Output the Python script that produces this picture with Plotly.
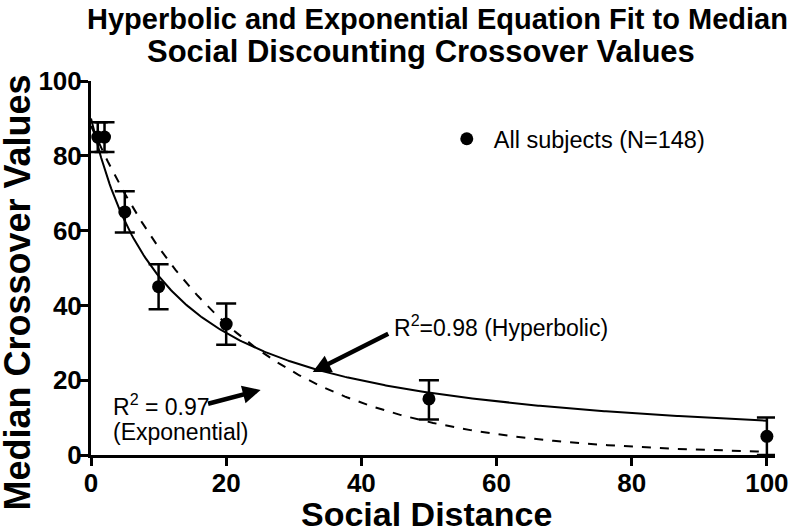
import numpy as np
import plotly.graph_objects as go

# Data
social_distance = [1, 2, 5, 10, 20, 50, 100]
median_crossover = [85, 85, 65, 45, 35, 15, 5]
err_plus = [4, 4, 5.5, 6, 5.5, 5, 5]
err_minus = [4, 4, 5.5, 6, 5.5, 5.5, 5]

# Fitted model parameters (estimated from the drawn curves)
hyp_A, hyp_k = 90.0, 0.088
exp_A, exp_k = 88.0, 0.046

x_ticks = [0, 20, 40, 60, 80, 100]
y_ticks = [0, 20, 40, 60, 80, 100]

xs = np.linspace(0, 100, 400)
hyp = hyp_A / (1 + hyp_k * xs)
expo = exp_A * np.exp(-exp_k * xs)

FONT = "Liberation Sans, Arial, Helvetica"

# plot area geometry (pixels) used to place paper-referenced texts
W, H = 800, 529
L, T = 91, 81
X100 = 777          # pixel of x = 100
Y0 = 455            # pixel of y = 0
XMAX = 101.2
PW = (X100 - L) * XMAX / 100.0
R = W - L - PW
B = H - Y0
PH = H - T - B


def px(xp):
    return (xp - L) / PW


def py(yp):
    return (H - B - yp) / PH


fig = go.Figure()
fig.add_trace(go.Scatter(x=xs, y=expo, mode="lines",
                         line=dict(color="black", width=2, dash="dash"),
                         showlegend=False, hoverinfo="skip", cliponaxis=False))
fig.add_trace(go.Scatter(x=xs, y=hyp, mode="lines",
                         line=dict(color="black", width=2),
                         showlegend=False, hoverinfo="skip", cliponaxis=False))
fig.add_trace(go.Scatter(x=social_distance, y=median_crossover, mode="markers",
                         name="All subjects (N=148)",
                         marker=dict(color="black", size=13),
                         error_y=dict(type="data", array=err_plus, arrayminus=err_minus,
                                      color="black", thickness=2.5, width=10),
                         cliponaxis=False))

# arrows
fig.add_annotation(x=32.8, y=22.2, ax=44.2, ay=32.6, xref="x", yref="y",
                   axref="x", ayref="y", text="", showarrow=True,
                   arrowhead=2, arrowsize=0.8, arrowwidth=4.5, arrowcolor="black")
fig.add_annotation(x=25.1, y=17.4, ax=17.1, ay=13.6, xref="x", yref="y",
                   axref="x", ayref="y", text="", showarrow=True,
                   arrowhead=2, arrowsize=0.8, arrowwidth=4.5, arrowcolor="black")
# fit labels
fig.add_annotation(x=px(396), y=py(326), xref="paper", yref="paper",
                   xanchor="left", yanchor="middle",
                   text="R<sup>2</sup>=0.98 (Hyperbolic)", showarrow=False,
                   font=dict(family=FONT, size=23, color="black"))
fig.add_annotation(x=px(111), y=py(405), xref="paper", yref="paper",
                   xanchor="left", yanchor="middle",
                   text="R<sup>2</sup> = 0.97", showarrow=False,
                   font=dict(family=FONT, size=23, color="black"))
fig.add_annotation(x=px(111), y=py(432), xref="paper", yref="paper",
                   xanchor="left", yanchor="middle",
                   text="(Exponential)", showarrow=False,
                   font=dict(family=FONT, size=23, color="black"))

# title (two lines)
fig.add_annotation(x=px(443), y=py(19.5), xref="paper", yref="paper",
                   xanchor="center", yanchor="middle", showarrow=False,
                   text="Hyperbolic and Exponential Equation Fit to Median",
                   font=dict(family=FONT, size=29, color="black", weight="bold"))
fig.add_annotation(x=px(426), y=py(51.5), xref="paper", yref="paper",
                   xanchor="center", yanchor="middle", showarrow=False,
                   text="Social Discounting Crossover Values",
                   font=dict(family=FONT, size=31, color="black", weight="bold"))
# axis titles
fig.add_annotation(x=px(432), y=py(514), xref="paper", yref="paper",
                   xanchor="center", yanchor="middle", showarrow=False,
                   text="Social Distance",
                   font=dict(family=FONT, size=34, color="black", weight="bold"))
fig.add_annotation(x=px(15.5), y=py(293), xref="paper", yref="paper",
                   xanchor="center", yanchor="middle", showarrow=False, textangle=-90,
                   text="Median Crossover Values",
                   font=dict(family=FONT, size=36, color="black", weight="bold"))

fig.update_layout(
    width=W, height=H,
    margin=dict(l=L, r=R, t=T, b=B, pad=0),
    paper_bgcolor="white", plot_bgcolor="white",
    legend=dict(x=px(445), y=py(139), xanchor="left", yanchor="middle",
                itemwidth=44,
                font=dict(family=FONT, size=23.5, color="black"),
                bgcolor="rgba(0,0,0,0)"),
    xaxis=dict(range=[0, XMAX], tickvals=x_ticks, showgrid=False, zeroline=False,
               showline=True, linecolor="black", linewidth=3,
               ticks="outside", ticklen=8, tickwidth=3, tickcolor="black",
               ticklabelstandoff=-5,
               tickfont=dict(family=FONT, size=26, color="black", weight="bold")),
    yaxis=dict(range=[0, 100], tickvals=y_ticks, showgrid=False, zeroline=False,
               showline=True, linecolor="black", linewidth=3,
               ticks="outside", ticklen=8, tickwidth=3, tickcolor="black",
               ticklabelstandoff=-7,
               tickfont=dict(family=FONT, size=26, color="black", weight="bold")),
)

fig.write_html("out.html", config={"displayModeBar": False},
               post_script="document.body.style.margin='0px';")
